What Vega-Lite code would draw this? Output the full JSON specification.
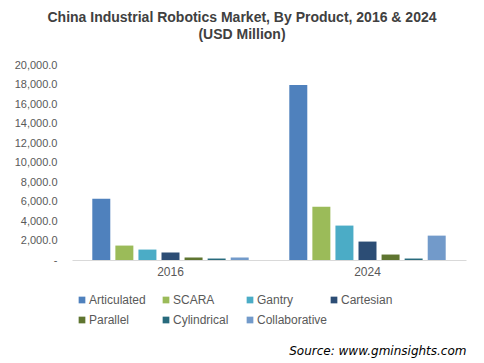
{
  "$schema": "https://vega.github.io/schema/vega-lite/v6.json",
  "autosize": {"type": "none"},
  "width": 394,
  "height": 195,
  "padding": {"left": 72, "top": 65, "right": 18, "bottom": 103},
  "background": "white",
  "title": {
    "text": ["China Industrial Robotics Market, By Product, 2016 & 2024", "(USD Million)"],
    "font": "Liberation Sans",
    "fontSize": 14,
    "fontWeight": "bold",
    "color": "#404040",
    "anchor": "middle",
    "frame": "group",
    "lineHeight": 17,
    "offset": 17,
    "dx": -27
  },
  "data": {
    "values": [
      {"year": "2016", "product": "Articulated", "value": 6290},
      {"year": "2016", "product": "SCARA", "value": 1480},
      {"year": "2016", "product": "Gantry", "value": 1070},
      {"year": "2016", "product": "Cartesian", "value": 770},
      {"year": "2016", "product": "Parallel", "value": 250},
      {"year": "2016", "product": "Cylindrical", "value": 150},
      {"year": "2016", "product": "Collaborative", "value": 250},
      {"year": "2024", "product": "Articulated", "value": 17950},
      {"year": "2024", "product": "SCARA", "value": 5470},
      {"year": "2024", "product": "Gantry", "value": 3530},
      {"year": "2024", "product": "Cartesian", "value": 1890},
      {"year": "2024", "product": "Parallel", "value": 560},
      {"year": "2024", "product": "Cylindrical", "value": 150},
      {"year": "2024", "product": "Collaborative", "value": 2500}
    ]
  },
  "mark": {"type": "bar"},
  "encoding": {
    "x": {
      "field": "year",
      "type": "nominal",
      "scale": {"paddingInner": 0, "paddingOuter": 0},
      "axis": {
        "labelAngle": 0,
        "labelFont": "Liberation Sans",
        "labelFontSize": 12,
        "labelColor": "#595959",
        "labelPadding": 6,
        "ticks": false,
        "domainColor": "#d9d9d9",
        "domainWidth": 1,
        "title": "Source: www.gminsights.com",
        "titleFont": "DejaVu Sans",
        "titleFontSize": 12,
        "titleFontStyle": "italic",
        "titleFontWeight": "normal",
        "titleColor": "#000000",
        "titleAnchor": "end",
        "titleAlign": "right",
        "titleBaseline": "middle",
        "titleY": 90
      }
    },
    "xOffset": {
      "field": "product",
      "type": "nominal",
      "sort": ["Articulated", "SCARA", "Gantry", "Cartesian", "Parallel", "Cylindrical", "Collaborative"],
      "scale": {"paddingInner": 0.22, "paddingOuter": 0.88}
    },
    "y": {
      "field": "value",
      "type": "quantitative",
      "scale": {"domain": [0, 20000], "nice": false},
      "axis": {
        "values": [0, 2000, 4000, 6000, 8000, 10000, 12000, 14000, 16000, 18000, 20000],
        "labelExpr": "datum.value === 0 ? '-' : format(datum.value, ',.1f')",
        "labelFont": "Liberation Sans",
        "labelFontSize": 11,
        "labelColor": "#595959",
        "labelPadding": 15,
        "ticks": false,
        "domain": false,
        "grid": false,
        "title": null
      }
    },
    "color": {
      "field": "product",
      "type": "nominal",
      "sort": ["Articulated", "SCARA", "Gantry", "Cartesian", "Parallel", "Cylindrical", "Collaborative"],
      "scale": {
        "domain": ["Articulated", "SCARA", "Gantry", "Cartesian", "Parallel", "Cylindrical", "Collaborative"],
        "range": ["#4F81BD", "#9BBB59", "#4BACC6", "#2C4D75", "#5F7530", "#276A7C", "#729ACA"]
      },
      "legend": {
        "title": null,
        "orient": "none",
        "legendX": 4,
        "legendY": 229,
        "direction": "horizontal",
        "columns": 4,
        "gridAlign": "all",
        "columnPadding": 0,
        "rowPadding": 8,
        "padding": 0,
        "symbolType": "square",
        "symbolSize": 45,
        "symbolStrokeWidth": 0,
        "symbolOffset": 0,
        "labelOffset": 1,
        "labelFont": "Liberation Sans",
        "labelFontSize": 12,
        "labelColor": "#595959"
      }
    }
  },
  "config": {"view": {"stroke": null}}
}
